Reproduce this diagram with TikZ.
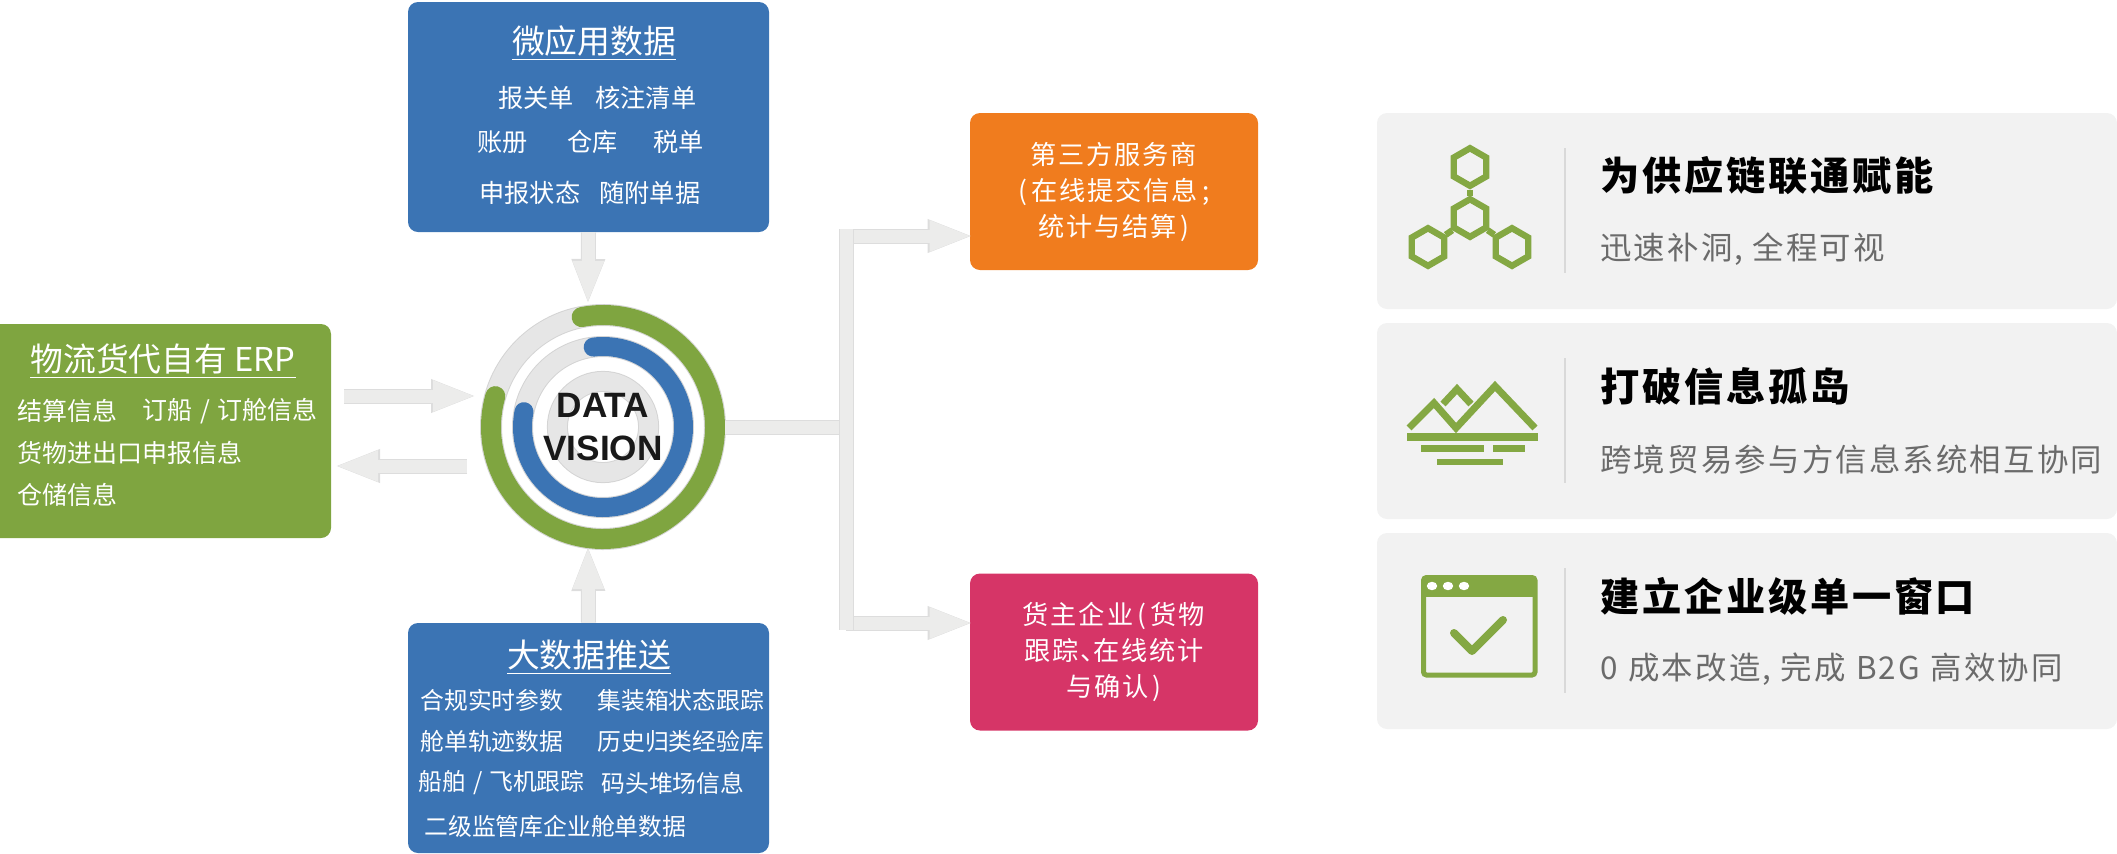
\documentclass[tikz,border=0pt]{standalone}
\usepackage{fontspec}
\setmainfont{Noto Sans CJK SC}
\newfontfamily\spacedfont[LetterSpace=7]{Noto Sans CJK SC}
\newfontfamily\hubfont{Liberation Sans}
\usepackage{tikz}
\usetikzlibrary{shapes.geometric, arrows.meta}
\definecolor{erpgreen}{HTML}{7FA540}
\definecolor{boxblue}{HTML}{3B74B4}
\definecolor{boxorange}{HTML}{F07C1E}
\definecolor{boxpink}{HTML}{D63567}
\definecolor{panelgrey}{HTML}{F2F2F2}
\definecolor{icongreen}{HTML}{84A843}
\definecolor{arrowfill}{HTML}{ECECEB}
\definecolor{arrowedge}{HTML}{DDDDDD}
\definecolor{tracklight}{HTML}{E6E6E6}
\definecolor{trackedge}{HTML}{D4D4D4}
\tikzstyle{sourcebox} = [
	rectangle,
	rounded corners=5pt,
	minimum width=180.5pt,
	minimum height=115pt,
	inner sep=0pt,
	fill=boxblue
]
\tikzstyle{targetbox} = [
	rectangle,
	rounded corners=5pt,
	minimum width=144pt,
	minimum height=78.5pt,
	inner sep=0pt,
	text=white,
	align=center,
	font=\fontsize{13.1}{18}\spacedfont
]
\tikzstyle{panel} = [
	rectangle,
	rounded corners=5pt,
	minimum width=370pt,
	minimum height=98pt,
	inner sep=0pt,
	fill=panelgrey
]
\tikzstyle{boxtitle} = [inner sep=0pt, text=white, font=\fontsize{16.4}{18}\selectfont]
\tikzstyle{erpitem} = [inner sep=0pt, anchor=west, text=white, font=\fontsize{12.5}{14}\selectfont]
\tikzstyle{microitem} = [inner sep=0pt, anchor=west, text=white, font=\fontsize{12.6}{14}\selectfont]
\tikzstyle{bigitem} = [inner sep=0pt, anchor=west, text=white, font=\fontsize{11.9}{14}\selectfont]
\tikzstyle{paneltitle} = [inner sep=0pt, anchor=west, text=black, font=\fontsize{19.6}{22}\spacedfont\bfseries]
\tikzstyle{panelsub} = [inner sep=0pt, anchor=west, text=black!58, font=\fontsize{15.7}{18}\spacedfont]
\tikzstyle{blockbar} = [draw=arrowfill, line width=6.5pt, preaction={draw=arrowedge, line width=7.5pt}]
\tikzstyle{blockarrow} = [
	draw=arrowfill,
	line width=6.5pt,
	shorten >=-1.5pt,
	-{Triangle[length=21.5pt,width=14pt]},
	preaction={draw=arrowedge, line width=7.5pt, shorten >=-2pt, -{Triangle[length=23pt,width=15pt]}}
]
\tikzstyle{track} = [draw=tracklight, line width=#1, preaction={draw=trackedge, line width=#1+1pt}]
\tikzstyle{hexcell} = [regular polygon, regular polygon sides=6, shape border rotate=30, minimum size=18.8pt, inner sep=0pt, draw=icongreen, line width=3.2pt]
\tikzstyle{hexlink} = [draw=icongreen, line width=3.2pt]
\tikzstyle{iconbar} = [fill=icongreen]
\tikzstyle{iconline} = [draw=icongreen, line width=3.5pt]
\tikzstyle{divider} = [draw=black!15, line width=1pt]

\begin{document}
\begin{tikzpicture}[x=0.5pt, y=-0.5pt]
	\useasboundingbox (0,0) rectangle (2117,853);
	% left, top and bottom boxes
	\node (erp) [sourcebox, fill=erpgreen, minimum width=176pt, minimum height=107pt] at (155,431) {};
	\node (micro) [sourcebox] at (588.5,117) {};
	\node (bigdata) [sourcebox] at (588.5,738) {};
	\node (erptitle) [boxtitle] at (163,361) {\underline{物流货代自有 ERP}};
	\node (erpa) [erpitem] at (17,411) {结算信息};
	\node (erpb) [erpitem] at (142,411) {订船\hspace{3.8pt}/\hspace{3.8pt}订舱信息};
	\node (erpc) [erpitem] at (17,453) {货物进出口申报信息};
	\node (erpd) [erpitem] at (17,495) {仓储信息};
	\node (microtitle) [boxtitle] at (594,43) {\underline{微应用数据}};
	\node (microa) [microitem] at (498,98) {报关单};
	\node (microb) [microitem] at (595,98) {核注清单};
	\node (microc) [microitem] at (477,142) {账册};
	\node (microd) [microitem] at (567,142) {仓库};
	\node (microe) [microitem] at (653,142) {税单};
	\node (microf) [microitem] at (479,193) {申报状态};
	\node (microg) [microitem] at (599,193) {随附单据};
	\node (bigtitle) [boxtitle] at (589,657) {\underline{大数据推送}};
	\node (biga) [bigitem] at (420,700) {合规实时参数};
	\node (bigb) [bigitem] at (597,700) {集装箱状态跟踪};
	\node (bigc) [bigitem] at (420,741) {舱单轨迹数据};
	\node (bigd) [bigitem] at (597,741) {历史归类经验库};
	\node (bige) [bigitem] at (418,783) {船舶\hspace{3.5pt}/\hspace{3.5pt}飞机跟踪};
	\node (bigf) [bigitem] at (601,783) {码头堆场信息};
	\node (bigg) [bigitem] at (424,826) {二级监管库企业舱单数据};
	% right boxes
	\node (third) [targetbox, fill=boxorange] at (1114,191.5) {第三方服务商\\(\,在线提交信息\,;\\统计与结算\,)};
	\node (owner) [targetbox, fill=boxpink] at (1114,652) {货主企业\,(\,货物\\跟踪、\kern-0.5em 在线统计\\与确认\,)};
	% the hub
	\draw [track=10pt] (603,427) circle (56pt);
	\draw [track=9.5pt] (603,427) circle (40.25pt);
	\draw [track=9.5pt] (603,427) circle (22.8pt);
	\draw [draw=erpgreen, line width=10pt, line cap=round] (603,427) ++(101:56pt) arc[start angle=101, end angle=-196, radius=56pt];
	\draw [draw=boxblue, line width=9.5pt, line cap=round] (603,427) ++(97:40.25pt) arc[start angle=97, end angle=-191, radius=40.25pt];
	\node (hub) [circle, minimum size=122pt, inner sep=0pt, align=center, text=black!90, font=\fontsize{17.6}{21.5}\hubfont\bfseries] at (603,427) {DATA\\VISION};
	% free ends of the connectors
	\coordinate (hubtop) at (588,301);
	\coordinate (hubbottom) at (588,549);
	\coordinate (erpinstart) at (344,396);
	\coordinate (erpinend) at (473,396);
	\coordinate (erpoutstart) at (467,466);
	\coordinate (erpoutend) at (338,466);
	\coordinate (trunkmid) at (846,427);
	\coordinate (trunktop) at (846,229);
	\coordinate (trunkbottom) at (846,630);
	\coordinate (branchtop) at (846,236);
	\coordinate (branchbottom) at (846,623);
	\draw [blockarrow] (micro.south) -- (hubtop);
	\draw [blockarrow] (bigdata.north) -- (hubbottom);
	\draw [blockarrow] (erpinstart) -- (erpinend);
	\draw [blockarrow] (erpoutstart) -- (erpoutend);
	\draw [blockbar] (hub.east) -- (trunkmid);
	\draw [blockarrow] (branchtop) -- (third.west |- branchtop);
	\draw [blockarrow] (branchbottom) -- (owner.west |- branchbottom);
	\draw [blockbar] (trunktop) -- (trunkbottom);
	% panels
	\node (panela) [panel] at (1747,211) {};
	\node (panelb) [panel] at (1747,421) {};
	\node (panelc) [panel] at (1747,631) {};
	\draw [divider] (1565,148) -- (1565,273);
	\draw [divider] (1565,358) -- (1565,483);
	\draw [divider] (1565,568) -- (1565,693);
	\node (titlea) [paneltitle] at (1600,176) {为供应链联通赋能};
	\node (suba) [panelsub] at (1600,249) {迅速补洞, 全程可视};
	\node (titleb) [paneltitle] at (1600,386) {打破信息孤岛};
	\node (subb) [panelsub] at (1600,459) {跨境贸易参与方信息系统相互协同};
	\node (titlec) [paneltitle] at (1600,596) {建立企业级单一窗口};
	\node (subc) [panelsub] at (1600,669) {0\,\,成本改造, 完成\,\,B2G\,\,高效协同};
	% hexagon icon
	\node (hextop) [hexcell] at (1470,167) {};
	\node (hexcentre) [hexcell] at (1470,218) {};
	\node (hexleft) [hexcell] at (1428,247) {};
	\node (hexright) [hexcell] at (1512,247) {};
	\draw [hexlink] (hexcentre) -- (hextop);
	\draw [hexlink] (hexcentre) -- (hexleft);
	\draw [hexlink] (hexcentre) -- (hexright);
	% mountain icon
	\draw [iconline] (1409,428) -- (1434,403) -- (1456,428) -- (1495,386) -- (1535,428);
	\draw [iconline] (1443,404) -- (1457,389) -- (1471,404);
	\fill [iconbar] (1407,433) rectangle (1538,441);
	\fill [iconbar] (1421,445) rectangle (1484,452);
	\fill [iconbar] (1493,445) rectangle (1525,452);
	\fill [iconbar] (1437,459) rectangle (1503,465);
	% window icon
	\draw [draw=icongreen, line width=2.5pt, rounded corners=1.5pt] (1423.5,577.5) rectangle (1535,675);
	\fill [iconbar] (1423,577) rectangle (1535,597);
	\fill [white] (1432,586) ellipse (2.6pt and 2.1pt);
	\fill [white] (1448,586) ellipse (2.6pt and 2.1pt);
	\fill [white] (1464,586) ellipse (2.6pt and 2.1pt);
	\draw [draw=icongreen, line width=4pt, line cap=round, line join=round] (1454,633) -- (1472,651) -- (1503,620);
\end{tikzpicture}
\end{document}
